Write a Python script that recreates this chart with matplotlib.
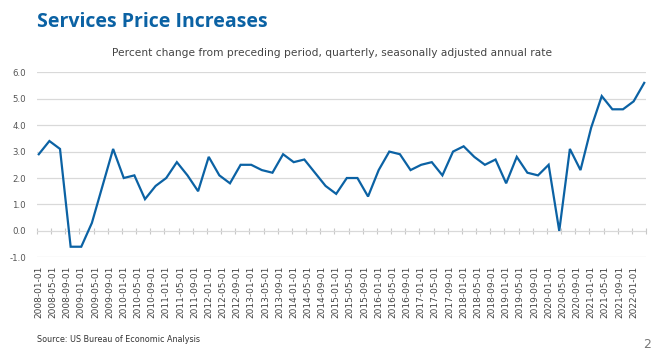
import matplotlib.pyplot as plt
import numpy as np

# quarterly, 2008Q1 .. 2022Q2
values = [2.9, 3.4, 3.1, -0.6, -0.6, 0.3, 1.7, 3.1,
          2.0, 2.1, 1.2, 1.7, 2.0, 2.6, 2.1, 1.5,
          2.8, 2.1, 1.8, 2.5, 2.5, 2.3, 2.2, 2.9,
          2.6, 2.7, 2.2, 1.7, 1.4, 2.0, 2.0, 1.3,
          2.3, 3.0, 2.9, 2.3, 2.5, 2.6, 2.1, 3.0,
          3.2, 2.8, 2.5, 2.7, 1.8, 2.8, 2.2, 2.1,
          2.5, 0.0, 3.1, 2.3, 3.9, 5.1, 4.6, 4.6,
          4.9, 5.6]
tick_labels = [f"{2008 + m // 12}-{m % 12 + 1:02d}-01" for m in range(0, 169, 4)]
y_ticks = [-1, 0, 1, 2, 3, 4, 5, 6]

months = np.arange(len(values)) * 3  # months since 2008-01

blue = "#0b62a4"
fig = plt.figure(figsize=(6.58, 3.52), dpi=100)
ax = fig.add_axes([37 / 658, 1 - 257.3 / 352, 609 / 658, 185 / 352])

ax.plot(months, values, color=blue, lw=1.6, solid_joinstyle="miter", zorder=3)

ax.set_xlim(-0.5, 171.5)
ax.set_ylim(-1, 6)
ax.set_yticks(y_ticks)
ax.set_yticklabels([f"{v:.1f}" for v in y_ticks], fontsize=6.2, color="#555555")
ax.grid(axis="y", color="#d9d9d9", lw=0.9)
ax.set_axisbelow(True)
for s in ax.spines.values():
    s.set_visible(False)
ax.tick_params(axis="y", length=0, pad=8)

ax.set_xticks(range(0, 169, 4))
ax.set_xticklabels(tick_labels, rotation=90, fontsize=6.5, color="#444444")
ax.tick_params(axis="x", length=0, pad=6)

# small tick marks on the zero line
sec = ax.secondary_xaxis(1 / 7)
sec.set_xticks(np.arange(-0.5, 172, 4))
sec.set_xticklabels([])
sec.spines["bottom"].set_visible(False)
sec.tick_params(axis="x", length=4, width=0.8, color="#c8c8c8", direction="inout")

fig.text(37 / 658, 1 - 27 / 352, "Services Price Increases", fontsize=14,
         fontweight="bold", color=blue, family="Open Sans", va="baseline")
fig.text(332 / 658, 1 - 53 / 352,
         "Percent change from preceding period, quarterly, seasonally adjusted annual rate",
         fontsize=7.7, color="#444444", ha="center", va="center")
fig.text(37 / 658, 1 - 340 / 352, "Source: US Bureau of Economic Analysis",
         fontsize=5.8, color="#333333", va="center")
fig.text(651 / 658, 1 - 345 / 352, "2", fontsize=9, color="#777777",
         ha="right", va="center")

fig.savefig("out.png", dpi=100)
